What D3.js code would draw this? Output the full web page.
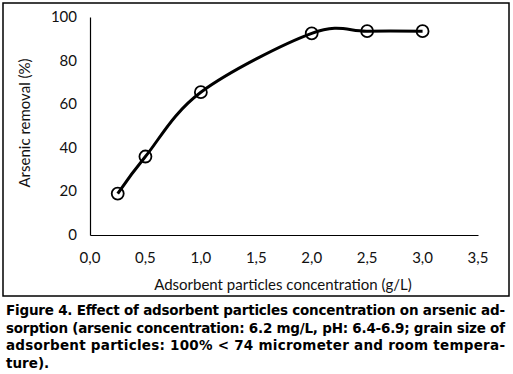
<!DOCTYPE html>
<html>
<head>
<meta charset="utf-8">
<script src="https://cdn.jsdelivr.net/npm/d3@7"></script>
<style>
  body { margin: 0; background: #fff; }
</style>
</head>
<body>
<div id="chart"></div>
<script>
const concentration = [0.25, 0.5, 1.0, 2.0, 2.5, 3.0];
const removal = [19, 36, 65.5, 92.5, 93.5, 93.5];
const xTicks = [0, 0.5, 1, 1.5, 2, 2.5, 3, 3.5];
const yTicks = [0, 20, 40, 60, 80, 100];
const captionLines = [
  "Figure 4. Effect of adsorbent particles concentration on arsenic ad-",
  "sorption (arsenic concentration: 6.2 mg/L, pH: 6.4-6.9; grain size of",
  "adsorbent particles: 100% < 74 micrometer and room tempera-",
  "ture)."
];

const width = 513, height = 374;
const margin = { left: 90, top: 17, right: 35, bottom: 139 };
const innerWidth = 478 - margin.left;
const innerHeight = 235 - margin.top;

const svg = d3.select("#chart").append("svg")
  .attr("width", width)
  .attr("height", height)
  .style("font-family", "Lato, 'Open Sans', sans-serif")
  .style("display", "block");

// outer frame
svg.append("rect")
  .attr("x", 3).attr("y", 3)
  .attr("width", 506).attr("height", 293)
  .attr("fill", "none")
  .attr("stroke", "#000")
  .attr("stroke-width", 1.5);

// scales in page coordinates
const xScale = d3.scaleLinear().domain([0, 3.5]).range([margin.left, margin.left + innerWidth]);
const yScale = d3.scaleLinear().domain([0, 100]).range([margin.top + innerHeight, margin.top]);

// axis lines (no tick marks)
const xAxis = svg.append("g")
  .attr("transform", `translate(0,${margin.top + innerHeight})`)
  .call(d3.axisBottom(xScale).tickValues([]).tickSizeOuter(0));
xAxis.select(".domain").attr("stroke", "#000").attr("stroke-width", 1.2);

const yAxis = svg.append("g")
  .attr("transform", `translate(${margin.left},0)`)
  .call(d3.axisLeft(yScale).tickValues([]).tickSizeOuter(0));
yAxis.select(".domain").attr("stroke", "#000").attr("stroke-width", 1.2);

// tick labels
const fmtX = d => d3.format(".1f")(d).replace(".", ",");

svg.selectAll(".x-label")
  .data(xTicks)
  .enter()
  .append("text")
  .attr("class", "x-label")
  .attr("x", d => xScale(d))
  .attr("y", margin.top + innerHeight + 28)
  .attr("text-anchor", "middle")
  .attr("font-size", "15px")
  .attr("fill", "#111")
  .text(fmtX);

svg.selectAll(".y-label")
  .data(yTicks)
  .enter()
  .append("text")
  .attr("class", "y-label")
  .attr("x", margin.left - 13)
  .attr("y", d => yScale(d) + 5)
  .attr("text-anchor", "end")
  .attr("font-size", "15px")
  .attr("fill", "#111")
  .text(d => d);

const points = concentration.map((c, i) => ({ c, r: removal[i] }));

// smoothed line
const line = d3.line()
  .x(d => xScale(d.c))
  .y(d => yScale(d.r))
  .curve(d3.curveCatmullRom.alpha(0));

svg.append("path")
  .datum(points)
  .attr("d", line)
  .attr("fill", "none")
  .attr("stroke", "#000")
  .attr("stroke-width", 3);

// markers
svg.selectAll(".marker")
  .data(points)
  .enter()
  .append("circle")
  .attr("class", "marker")
  .attr("cx", d => xScale(d.c))
  .attr("cy", d => yScale(d.r))
  .attr("r", 6)
  .attr("fill", "none")
  .attr("stroke", "#000")
  .attr("stroke-width", 1.8);

// axis titles
svg.append("text")
  .attr("x", 283)
  .attr("y", 290)
  .attr("text-anchor", "middle")
  .attr("font-size", "15px")
  .attr("fill", "#111")
  .text("Adsorbent particles concentration (g/L)");

svg.append("text")
  .attr("transform", "rotate(-90)")
  .attr("x", -123)
  .attr("y", 30)
  .attr("text-anchor", "middle")
  .attr("font-size", "15px")
  .attr("fill", "#111")
  .text("Arsenic removal (%)");

// caption, justified lines
const caption = svg.append("g")
  .attr("font-family", "'DejaVu Sans', sans-serif")
  .attr("font-weight", "bold")
  .attr("font-size", "13.5px")
  .attr("fill", "#000");

caption.selectAll("text")
  .data(captionLines)
  .enter()
  .append("text")
  .attr("x", 6)
  .attr("y", (d, i) => 315 + i * 17.5)
  .attr("textLength", (d, i) => i < captionLines.length - 1 ? 499 : null)
  .attr("lengthAdjust", "spacing")
  .text(d => d);
</script>
</body>
</html>
